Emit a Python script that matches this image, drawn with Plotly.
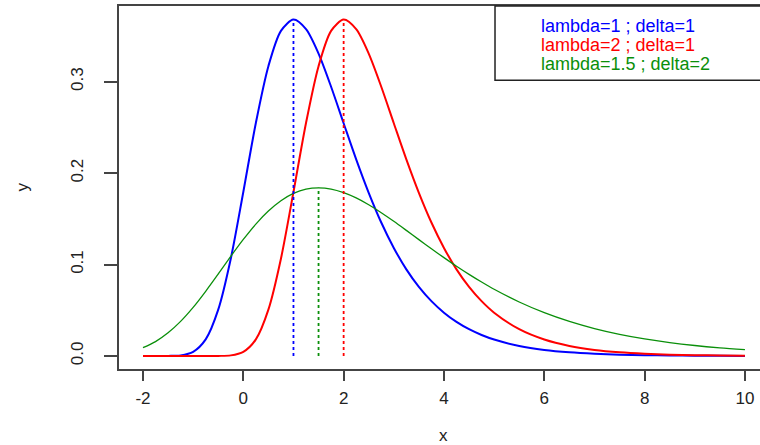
import plotly.graph_objects as go

# ---- data ----
x_vals = [-2, -1.75, -1.5, -1.25, -1, -0.75, -0.5, -0.25, 0, 0.25, 0.5, 0.75,
          1, 1.25, 1.5, 1.75, 2, 2.25, 2.5, 2.75, 3, 3.25, 3.5, 3.75, 4, 4.25,
          4.5, 4.75, 5, 5.5, 6, 6.5, 7, 7.5, 8, 8.5, 9, 9.5, 10]

y_blue = [0.0000, 0.0000, 0.0001, 0.0007, 0.0046, 0.0182, 0.0507, 0.1064,
          0.1794, 0.2549, 0.3170, 0.3556, 0.3679, 0.3574, 0.3307, 0.2945,
          0.2546, 0.2151, 0.1785, 0.1460, 0.1182, 0.0948, 0.0756, 0.0600,
          0.0474, 0.0373, 0.0293, 0.0230, 0.0180, 0.0110, 0.0067, 0.0041,
          0.0025, 0.0015, 0.0009, 0.0006, 0.0003, 0.0002, 0.0001]

y_red = [0.0000, 0.0000, 0.0000, 0.0000, 0.0000, 0.0000, 0.0001, 0.0007,
         0.0046, 0.0182, 0.0507, 0.1064, 0.1794, 0.2549, 0.3170, 0.3556,
         0.3679, 0.3574, 0.3307, 0.2945, 0.2546, 0.2151, 0.1785, 0.1460,
         0.1182, 0.0948, 0.0756, 0.0600, 0.0474, 0.0293, 0.0180, 0.0110,
         0.0067, 0.0041, 0.0025, 0.0015, 0.0009, 0.0006, 0.0003]

y_green = [0.0091, 0.0158, 0.0254, 0.0379, 0.0532, 0.0708, 0.0897, 0.1090,
           0.1275, 0.1443, 0.1585, 0.1698, 0.1778, 0.1825, 0.1839, 0.1826,
           0.1787, 0.1729, 0.1654, 0.1567, 0.1473, 0.1374, 0.1273, 0.1173,
           0.1076, 0.0982, 0.0893, 0.0809, 0.0730, 0.0591, 0.0474, 0.0378,
           0.0300, 0.0237, 0.0187, 0.0147, 0.0115, 0.0090, 0.0070]

series_names = ["lambda=1 ; delta=1", "lambda=2 ; delta=1", "lambda=1.5 ; delta=2"]
series_colors = ["#0000FF", "#FF0000", "#0A8F0A"]
series_widths = [2.0, 2.0, 1.3]
peak_x = [1, 2, 1.5]
peak_y = [0.3679, 0.3679, 0.1839]

x_ticks = [-2, 0, 2, 4, 6, 8, 10]
x_ticktext = ["-2", "0", "2", "4", "6", "8", "10"]
y_ticks = [0.0, 0.1, 0.2, 0.3]
y_ticktext = ["0.0", "0.1", "0.2", "0.3"]

FONT = "Liberation Sans, Arial, sans-serif"
AXC = "#444444"

fig = go.Figure()
for ys, name, col, w in zip([y_blue, y_red, y_green], series_names, series_colors, series_widths):
    fig.add_trace(go.Scatter(x=x_vals, y=ys, mode="lines", name=name,
                             line=dict(color=col, width=w, shape="spline", smoothing=0.8),
                             showlegend=False, hoverinfo="skip"))

for px, py, col in zip(peak_x, peak_y, series_colors):
    fig.add_trace(go.Scatter(x=[px, px], y=[0, py], mode="lines",
                             line=dict(color=col, width=1.8, dash="dot"),
                             showlegend=False, hoverinfo="skip"))

fig.update_layout(
    width=760, height=445,
    margin=dict(l=119, r=0, t=6, b=76),
    paper_bgcolor="white", plot_bgcolor="white",
    font=dict(family=FONT, color="#222222"),
    xaxis=dict(range=[-2.478, 10.30], tickvals=x_ticks, ticktext=x_ticktext,
               ticks="outside",
               ticklen=10, tickwidth=1.5, tickcolor=AXC,
               showline=True, mirror=True, linecolor=AXC, linewidth=1.5,
               showgrid=False, zeroline=False,
               tickfont=dict(size=17, color="#222222"), ticklabelstandoff=3),
    yaxis=dict(range=[-0.0142, 0.3828], tickvals=y_ticks, ticktext=y_ticktext,
               ticks="outside", ticklen=13, tickwidth=1.5, tickcolor=AXC,
               tickangle=-90,
               showline=True, mirror=False, linecolor=AXC, linewidth=1.5,
               showgrid=False, zeroline=False,
               tickfont=dict(size=17, color="#222222"), ticklabelstandoff=14),
)

# legend box
fig.add_shape(type="rect", xref="paper", yref="paper",
              x0=0.5866, x1=1.2, y0=0.7955, y1=1.0,
              line=dict(color="#222222", width=1.5), fillcolor="rgba(0,0,0,0)")

legend_y = [0.945, 0.893, 0.8415]
for name, col, ly in zip(series_names, series_colors, legend_y):
    fig.add_annotation(xref="paper", yref="paper", x=0.655, y=ly,
                       xanchor="left", yanchor="middle", showarrow=False,
                       text=name, font=dict(size=18, color=col, family=FONT))

# axis titles
fig.add_annotation(xref="paper", yref="paper", x=(444 - 119) / 641, y=-(435 - 369) / 363,
                   xanchor="center", yanchor="middle", showarrow=False,
                   text="x", font=dict(size=17, color="#222222"))
fig.add_annotation(xref="paper", yref="paper", x=-(119 - 22) / 641, y=0.5,
                   xanchor="center", yanchor="middle", showarrow=False, textangle=-90,
                   text="y", font=dict(size=17, color="#222222"))

fig.write_html("out.html", config={"displayModeBar": False},
               post_script="document.body.style.margin='0';document.body.style.padding='0';")
